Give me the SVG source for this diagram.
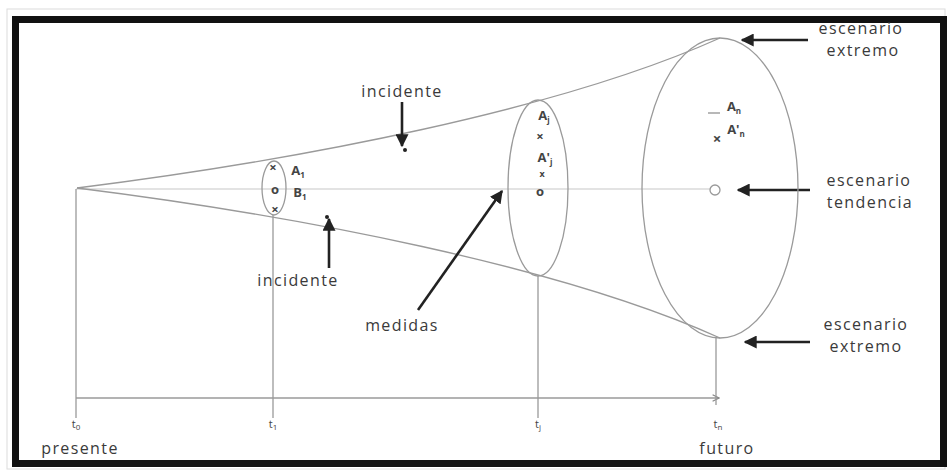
<svg xmlns="http://www.w3.org/2000/svg" width="948" height="471" viewBox="0 0 948 471">
<style>
.lbl{font-family:"Open Sans","Liberation Sans",sans-serif;font-size:16px;fill:#3a3a3a;letter-spacing:1.4px;text-anchor:middle}
.sym{font-family:"Open Sans","Liberation Sans",sans-serif;font-size:13px;fill:#444;text-anchor:middle;font-weight:bold}
.sub{font-size:8px}
.thin{fill:none;stroke:#9a9a9a;stroke-width:1.3}
.faint{fill:none;stroke:#c8c8c8;stroke-width:1.2}
.arr{stroke:#222;stroke-width:2.6;fill:none}
.tk{font-family:"Open Sans","Liberation Sans",sans-serif;font-size:11px;fill:#444;text-anchor:middle}
</style>
<defs>
<marker id="ah" viewBox="0 0 10 10" refX="9" refY="5" markerWidth="5" markerHeight="5" orient="auto" markerUnits="strokeWidth">
<path d="M0,0 L10,5 L0,10 z" fill="#222"/>
</marker>
<marker id="oh" viewBox="0 0 10 10" refX="9" refY="5" markerWidth="8" markerHeight="8" orient="auto" markerUnits="userSpaceOnUse">
<path d="M1,1 L9,5 L1,9" fill="none" stroke="#888" stroke-width="1.5"/>
</marker>
</defs>
<rect x="0" y="0" width="948" height="471" fill="#fff"/>
<rect x="7" y="9" width="938" height="460" fill="none" stroke="#dcdcdc" stroke-width="1"/>
<rect x="15.5" y="19.5" width="928" height="444" fill="#fff" stroke="#111" stroke-width="7"/>

<g id="connectors">
<path class="faint" d="M76,189 H712"/>
<path class="thin" d="M77,188 C300,160 560,110 720,38"/>
<path class="thin" d="M77,188 C300,216 560,266 720,338"/>
<path class="thin" d="M76,398 H719" marker-end="url(#oh)"/>
<path class="thin" d="M76,189 V418"/>
<path class="thin" d="M273,215 V418"/>
<path class="thin" d="M538,276 V418"/>
<path class="thin" d="M716,338 V405"/>
<path class="arr" d="M808,40 H742" marker-end="url(#ah)"/>
<path class="arr" d="M810,190 H738" marker-end="url(#ah)"/>
<path class="arr" d="M810,342 H745" marker-end="url(#ah)"/>
<path class="arr" d="M402,102 V146" marker-end="url(#ah)"/>
<path class="arr" d="M329,268 V219" marker-end="url(#ah)"/>
<path class="arr" d="M418,310 L502,191" marker-end="url(#ah)"/>
</g>

<g id="ellipse-t1">
<ellipse class="thin" cx="274" cy="188" rx="12" ry="27"/>
<text class="sym" x="273" y="172">×</text>
<text class="sym" x="275" y="194">o</text>
<text class="sym" x="275" y="214">×</text>
<text class="sym" x="298" y="175">A<tspan class="sub" dy="3">1</tspan></text>
<text class="sym" x="300" y="197">B<tspan class="sub" dy="3">1</tspan></text>
</g>

<g id="ellipse-tj">
<ellipse class="thin" cx="538" cy="188" rx="30" ry="88"/>
<text class="sym" x="544" y="120">A<tspan class="sub" dy="3">j</tspan></text>
<text class="sym" x="540" y="141">×</text>
<text class="sym" x="545" y="162">A'<tspan class="sub" dy="3">j</tspan></text>
<text class="sym" x="542" y="177" style="font-size:9px">x</text>
<text class="sym" x="540" y="196">o</text>
</g>

<g id="ellipse-tn">
<ellipse class="thin" cx="720" cy="188" rx="78" ry="150"/>
<path d="M708,113 H720" stroke="#888" stroke-width="1.2"/>
<text class="sym" x="734" y="111">A<tspan class="sub" dy="3">n</tspan></text>
<text class="sym" x="717" y="144" style="font-size:15px">×</text>
<text class="sym" x="736" y="134">A'<tspan class="sub" dy="3">n</tspan></text>
<circle cx="715" cy="190" r="5" fill="#fff" stroke="#999" stroke-width="1.3"/>
</g>

<g id="incidente-top">
<text class="lbl" x="402" y="97">incidente</text>
<circle cx="405" cy="150" r="2" fill="#222"/>
</g>
<g id="incidente-bottom">
<text class="lbl" x="298" y="286">incidente</text>
<circle cx="327" cy="217" r="2" fill="#222"/>
</g>
<g id="medidas">
<text class="lbl" x="402" y="331">medidas</text>
</g>
<g id="escenario-extremo-top">
<text class="lbl" x="861" y="34">escenario</text>
<text class="lbl" x="863" y="56">extremo</text>
</g>
<g id="escenario-tendencia">
<text class="lbl" x="869" y="186">escenario</text>
<text class="lbl" x="870" y="208">tendencia</text>
</g>
<g id="escenario-extremo-bottom">
<text class="lbl" x="866" y="330">escenario</text>
<text class="lbl" x="866" y="352">extremo</text>
</g>
<g id="axis-labels">
<text class="tk" x="76" y="428">t<tspan class="sub" dy="2">0</tspan></text>
<text class="lbl" x="80" y="454">presente</text>
<text class="tk" x="273" y="428">t<tspan class="sub" dy="2">1</tspan></text>
<text class="tk" x="538" y="428">t<tspan class="sub" dy="2">j</tspan></text>
<text class="tk" x="718" y="428">t<tspan class="sub" dy="2">n</tspan></text>
<text class="lbl" x="727" y="454">futuro</text>
</g>
</svg>
